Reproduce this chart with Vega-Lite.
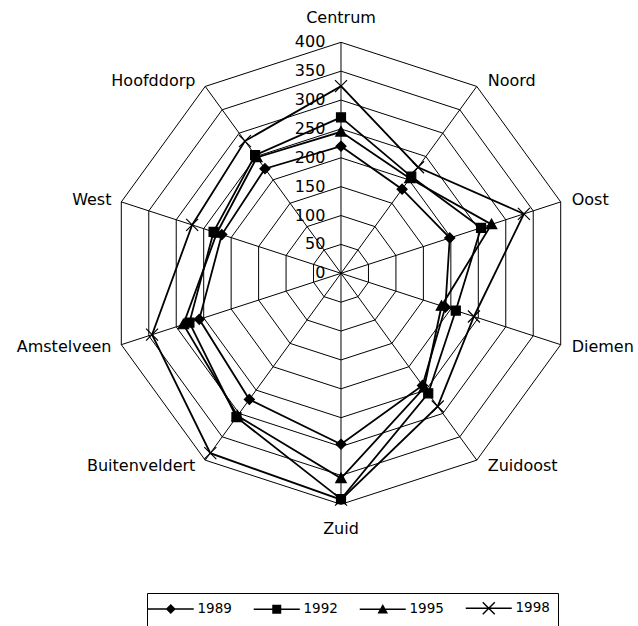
{
  "$schema": "https://vega.github.io/schema/vega-lite/v6.json",
  "width": 638,
  "height": 626,
  "autosize": {"type": "none"},
  "padding": 0,
  "background": "white",
  "config": {"view": {"stroke": null}, "font": "DejaVu Sans"},
  "resolve": {"scale": {"shape": "independent"}},
  "datasets": {
    "radar": [
      {"year": "1989", "cat": "Centrum", "i": 0, "v": 220},
      {"year": "1989", "cat": "Noord", "i": 1, "v": 180},
      {"year": "1989", "cat": "Oost", "i": 2, "v": 198},
      {"year": "1989", "cat": "Diemen", "i": 3, "v": 190},
      {"year": "1989", "cat": "Zuidoost", "i": 4, "v": 240},
      {"year": "1989", "cat": "Zuid", "i": 5, "v": 296},
      {"year": "1989", "cat": "Buitenveldert", "i": 6, "v": 270},
      {"year": "1989", "cat": "Amstelveen", "i": 7, "v": 258},
      {"year": "1989", "cat": "West", "i": 8, "v": 217},
      {"year": "1989", "cat": "Hoofddorp", "i": 9, "v": 224},
      {"year": "1992", "cat": "Centrum", "i": 0, "v": 270},
      {"year": "1992", "cat": "Noord", "i": 1, "v": 207},
      {"year": "1992", "cat": "Oost", "i": 2, "v": 255},
      {"year": "1992", "cat": "Diemen", "i": 3, "v": 209},
      {"year": "1992", "cat": "Zuidoost", "i": 4, "v": 257},
      {"year": "1992", "cat": "Zuid", "i": 5, "v": 391},
      {"year": "1992", "cat": "Buitenveldert", "i": 6, "v": 308},
      {"year": "1992", "cat": "Amstelveen", "i": 7, "v": 276},
      {"year": "1992", "cat": "West", "i": 8, "v": 232},
      {"year": "1992", "cat": "Hoofddorp", "i": 9, "v": 253},
      {"year": "1995", "cat": "Centrum", "i": 0, "v": 245},
      {"year": "1995", "cat": "Noord", "i": 1, "v": 203},
      {"year": "1995", "cat": "Oost", "i": 2, "v": 274},
      {"year": "1995", "cat": "Diemen", "i": 3, "v": 183},
      {"year": "1995", "cat": "Zuidoost", "i": 4, "v": 245},
      {"year": "1995", "cat": "Zuid", "i": 5, "v": 355},
      {"year": "1995", "cat": "Buitenveldert", "i": 6, "v": 305},
      {"year": "1995", "cat": "Amstelveen", "i": 7, "v": 287},
      {"year": "1995", "cat": "West", "i": 8, "v": 226},
      {"year": "1995", "cat": "Hoofddorp", "i": 9, "v": 248},
      {"year": "1998", "cat": "Centrum", "i": 0, "v": 324},
      {"year": "1998", "cat": "Noord", "i": 1, "v": 227},
      {"year": "1998", "cat": "Oost", "i": 2, "v": 333},
      {"year": "1998", "cat": "Diemen", "i": 3, "v": 242},
      {"year": "1998", "cat": "Zuidoost", "i": 4, "v": 285},
      {"year": "1998", "cat": "Zuid", "i": 5, "v": 392},
      {"year": "1998", "cat": "Buitenveldert", "i": 6, "v": 385},
      {"year": "1998", "cat": "Amstelveen", "i": 7, "v": 344},
      {"year": "1998", "cat": "West", "i": 8, "v": 271},
      {"year": "1998", "cat": "Hoofddorp", "i": 9, "v": 283}
    ],
    "cats": [
      {"cat": "Centrum", "i": 0},
      {"cat": "Noord", "i": 1},
      {"cat": "Oost", "i": 2},
      {"cat": "Diemen", "i": 3},
      {"cat": "Zuidoost", "i": 4},
      {"cat": "Zuid", "i": 5},
      {"cat": "Buitenveldert", "i": 6},
      {"cat": "Amstelveen", "i": 7},
      {"cat": "West", "i": 8},
      {"cat": "Hoofddorp", "i": 9}
    ],
    "rings": [
      {"ring": 50, "i": [0, 1, 2, 3, 4, 5, 6, 7, 8, 9]},
      {"ring": 100, "i": [0, 1, 2, 3, 4, 5, 6, 7, 8, 9]},
      {"ring": 150, "i": [0, 1, 2, 3, 4, 5, 6, 7, 8, 9]},
      {"ring": 200, "i": [0, 1, 2, 3, 4, 5, 6, 7, 8, 9]},
      {"ring": 250, "i": [0, 1, 2, 3, 4, 5, 6, 7, 8, 9]},
      {"ring": 300, "i": [0, 1, 2, 3, 4, 5, 6, 7, 8, 9]},
      {"ring": 350, "i": [0, 1, 2, 3, 4, 5, 6, 7, 8, 9]},
      {"ring": 400, "i": [0, 1, 2, 3, 4, 5, 6, 7, 8, 9]}
    ],
    "ticks": [
      {"t": 0}, {"t": 50}, {"t": 100}, {"t": 150}, {"t": 200},
      {"t": 250}, {"t": 300}, {"t": 350}, {"t": 400}
    ]
  },
  "layer": [
    {
      "data": {"name": "rings"},
      "transform": [
        {"flatten": ["i"]},
        {"calculate": "datum.ring*sin(datum.i*PI/5)", "as": "x"},
        {"calculate": "datum.ring*cos(datum.i*PI/5)", "as": "y"}
      ],
      "mark": {"type": "line", "interpolate": "linear-closed", "color": "black", "strokeWidth": 1},
      "encoding": {
        "x": {"field": "x", "type": "quantitative", "scale": {"domain": [-590.48, 514.29], "nice": false, "zero": false}, "axis": null},
        "y": {"field": "y", "type": "quantitative", "scale": {"domain": [-610.74, 473.25], "nice": false, "zero": false}, "axis": null},
        "detail": {"field": "ring", "type": "nominal"},
        "order": {"field": "i", "type": "quantitative"}
      }
    },
    {
      "data": {"name": "cats"},
      "transform": [
        {"calculate": "400*sin(datum.i*PI/5)", "as": "x"},
        {"calculate": "400*cos(datum.i*PI/5)", "as": "y"}
      ],
      "mark": {"type": "rule", "color": "black", "strokeWidth": 1},
      "encoding": {
        "x": {"field": "x", "type": "quantitative", "scale": {"domain": [-590.48, 514.29], "nice": false, "zero": false}, "axis": null},
        "y": {"field": "y", "type": "quantitative", "scale": {"domain": [-610.74, 473.25], "nice": false, "zero": false}, "axis": null},
        "x2": {"datum": 0},
        "y2": {"datum": 0}
      }
    },
    {
      "data": {"name": "ticks"},
      "mark": {"type": "text", "align": "right", "baseline": "middle", "font": "DejaVu Sans", "fontSize": 16, "color": "black"},
      "encoding": {
        "x": {"datum": -27, "type": "quantitative", "scale": {"domain": [-590.48, 514.29], "nice": false, "zero": false}, "axis": null},
        "y": {"field": "t", "type": "quantitative", "scale": {"domain": [-610.74, 473.25], "nice": false, "zero": false}, "axis": null},
        "text": {"field": "t", "type": "quantitative"}
      }
    },
    {
      "data": {"name": "cats"},
      "transform": [
        {"filter": "datum.i == 0 || datum.i == 5"},
        {"calculate": "0", "as": "x"},
        {"calculate": "442*cos(datum.i*PI/5)", "as": "y"}
      ],
      "mark": {"type": "text", "align": "center", "baseline": "middle", "font": "DejaVu Sans", "fontSize": 16, "color": "black"},
      "encoding": {
        "x": {"field": "x", "type": "quantitative", "scale": {"domain": [-590.48, 514.29], "nice": false, "zero": false}, "axis": null},
        "y": {"field": "y", "type": "quantitative", "scale": {"domain": [-610.74, 473.25], "nice": false, "zero": false}, "axis": null},
        "text": {"field": "cat", "type": "nominal"}
      }
    },
    {
      "data": {"name": "cats"},
      "transform": [
        {"filter": "datum.i >= 1 && datum.i <= 4"},
        {"calculate": "400*sin(datum.i*PI/5) + 19", "as": "x"},
        {"calculate": "412*cos(datum.i*PI/5)", "as": "y"}
      ],
      "mark": {"type": "text", "align": "left", "baseline": "middle", "font": "DejaVu Sans", "fontSize": 16, "color": "black"},
      "encoding": {
        "x": {"field": "x", "type": "quantitative", "scale": {"domain": [-590.48, 514.29], "nice": false, "zero": false}, "axis": null},
        "y": {"field": "y", "type": "quantitative", "scale": {"domain": [-610.74, 473.25], "nice": false, "zero": false}, "axis": null},
        "text": {"field": "cat", "type": "nominal"}
      }
    },
    {
      "data": {"name": "cats"},
      "transform": [
        {"filter": "datum.i >= 6"},
        {"calculate": "400*sin(datum.i*PI/5) - 17", "as": "x"},
        {"calculate": "412*cos(datum.i*PI/5)", "as": "y"}
      ],
      "mark": {"type": "text", "align": "right", "baseline": "middle", "font": "DejaVu Sans", "fontSize": 16, "color": "black"},
      "encoding": {
        "x": {"field": "x", "type": "quantitative", "scale": {"domain": [-590.48, 514.29], "nice": false, "zero": false}, "axis": null},
        "y": {"field": "y", "type": "quantitative", "scale": {"domain": [-610.74, 473.25], "nice": false, "zero": false}, "axis": null},
        "text": {"field": "cat", "type": "nominal"}
      }
    },
    {
      "data": {"name": "radar"},
      "transform": [
        {"calculate": "datum.v*sin(datum.i*PI/5)", "as": "x"},
        {"calculate": "datum.v*cos(datum.i*PI/5)", "as": "y"}
      ],
      "mark": {"type": "line", "interpolate": "linear-closed", "color": "black", "strokeWidth": 1.8},
      "encoding": {
        "x": {"field": "x", "type": "quantitative", "scale": {"domain": [-590.48, 514.29], "nice": false, "zero": false}, "axis": null},
        "y": {"field": "y", "type": "quantitative", "scale": {"domain": [-610.74, 473.25], "nice": false, "zero": false}, "axis": null},
        "detail": {"field": "year", "type": "nominal"},
        "order": {"field": "i", "type": "quantitative"}
      }
    },
    {
      "data": {"name": "radar"},
      "transform": [
        {"calculate": "datum.v*sin(datum.i*PI/5)", "as": "x"},
        {"calculate": "datum.v*cos(datum.i*PI/5)", "as": "y"}
      ],
      "mark": {"type": "point", "filled": true, "color": "black", "stroke": "black", "strokeWidth": 1.2, "size": 100, "opacity": 1},
      "encoding": {
        "x": {"field": "x", "type": "quantitative", "scale": {"domain": [-590.48, 514.29], "nice": false, "zero": false}, "axis": null},
        "y": {"field": "y", "type": "quantitative", "scale": {"domain": [-610.74, 473.25], "nice": false, "zero": false}, "axis": null},
        "shape": {
          "field": "year",
          "type": "nominal",
          "scale": {
            "domain": ["1989", "1992", "1995", "1998"],
            "range": [
              "M0,-1L1,0L0,1L-1,0Z",
              "M-0.9,-0.9L0.9,-0.9L0.9,0.9L-0.9,0.9Z",
              "M0,-1.05L1.05,0.85L-1.05,0.85Z",
              "M-1.2,-1.2L1.2,1.2M-1.2,1.2L1.2,-1.2"
            ]
          },
          "legend": null
        }
      }
    },
    {
      "data": {"name": "radar"},
      "transform": [
        {"filter": "datum.v < 0"},
        {"calculate": "datum.v*sin(datum.i*PI/5)", "as": "x"},
        {"calculate": "datum.v*cos(datum.i*PI/5)", "as": "y"}
      ],
      "mark": {"type": "point", "filled": true, "color": "black", "size": 100, "opacity": 1},
      "encoding": {
        "x": {"field": "x", "type": "quantitative", "scale": {"domain": [-590.48, 514.29], "nice": false, "zero": false}, "axis": null},
        "y": {"field": "y", "type": "quantitative", "scale": {"domain": [-610.74, 473.25], "nice": false, "zero": false}, "axis": null},
        "shape": {
          "field": "year",
          "type": "nominal",
          "scale": {
            "domain": ["1989", "1992", "1995", "1998"],
            "range": [
              "M-4.6,-0.15L4.6,-0.15L4.6,0.15L-4.6,0.15ZM0,-1L1,0L0,1L-1,0Z",
              "M-4.6,-0.15L4.6,-0.15L4.6,0.15L-4.6,0.15ZM-0.9,-0.9L0.9,-0.9L0.9,0.9L-0.9,0.9Z",
              "M-4.6,-0.15L4.6,-0.15L4.6,0.15L-4.6,0.15ZM0,-1.05L1.05,0.85L-1.05,0.85Z",
              "M-4.6,-0.15L4.6,-0.15L4.6,0.15L-4.6,0.15ZM-1.1,-1.3L1.3,1.1L1.1,1.3L-1.3,-1.1ZM1.1,-1.3L1.3,-1.1L-1.1,1.3L-1.3,1.1Z"
            ]
          },
          "legend": {
            "title": null,
            "orient": "none",
            "legendX": 147,
            "legendY": 593,
            "direction": "horizontal",
            "columns": 4,
            "strokeColor": "black",
            "padding": 8,
            "symbolSize": 100,
            "symbolFillColor": "black",
            "symbolOpacity": 1,
            "symbolOffset": 9,
            "labelFont": "DejaVu Sans",
            "labelFontSize": 13.5,
            "labelColor": "black",
            "labelOffset": 20,
            "columnPadding": 18
          }
        }
      }
    }
  ]
}
